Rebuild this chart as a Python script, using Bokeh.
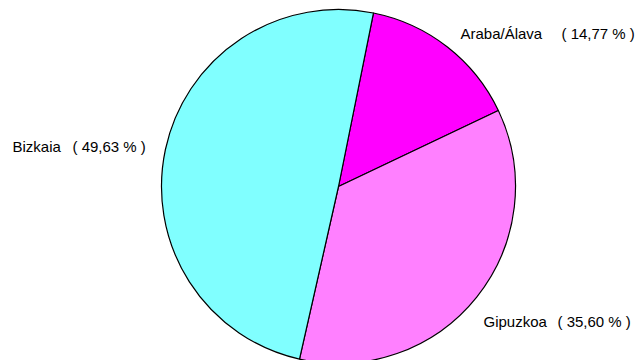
import numpy as np
from bokeh.plotting import figure
from bokeh.models import Range1d, ColumnDataSource
from bokeh.core.properties import value
from bokeh.embed import file_html
from bokeh.resources import INLINE

# Data
regions = ["Araba/Álava", "Gipuzkoa", "Bizkaia"]
shares = [14.77, 35.60, 49.63]
colors = ["#FF00FF", "#FF80FF", "#80FFFF"]
pct_labels = ["( 14,77 % )", "( 35,60 % )", "( 49,63 % )"]

W, H = 636, 360
p = figure(width=W, height=H, output_backend="svg", toolbar_location=None,
           x_range=Range1d(0, W), y_range=Range1d(0, H), min_border=0)
p.axis.visible = False
p.grid.visible = False
p.outline_line_color = None
p.background_fill_color = "white"
p.border_fill_color = "white"

cx, cy, r = 338, 360 - 186, 177
start_deg = 90 - 11.4  # first slice starts slightly right of top, clockwise
fr = np.array(shares) / sum(shares)
cum = np.concatenate([[0], np.cumsum(fr)])
starts = np.deg2rad(start_deg) - cum[:-1] * 2 * np.pi
ends = np.deg2rad(start_deg) - cum[1:] * 2 * np.pi
src = ColumnDataSource(dict(start=starts, end=ends, color=colors))
p.wedge(x=cx, y=cy, radius=r, start_angle="start", end_angle="end",
        direction="clock", fill_color="color", line_color="black", line_width=1.2,
        source=src)

# labels: (name x, pct x, y pixel)
name_x = [460, 483, 12]
pct_x = [561, 557, 72]
ypix = [33, 321, 146]
ys = [H - y for y in ypix]
p.text(x=name_x, y=ys, text=regions, text_font=value("Liberation Sans"),
       text_font_size="15px", text_align="left", text_baseline="middle", text_color="black")
p.text(x=pct_x, y=ys, text=pct_labels, text_font=value("Liberation Sans"),
       text_font_size="15px", text_align="left", text_baseline="middle", text_color="black")

open("out.html", "w").write(file_html(p, INLINE))
